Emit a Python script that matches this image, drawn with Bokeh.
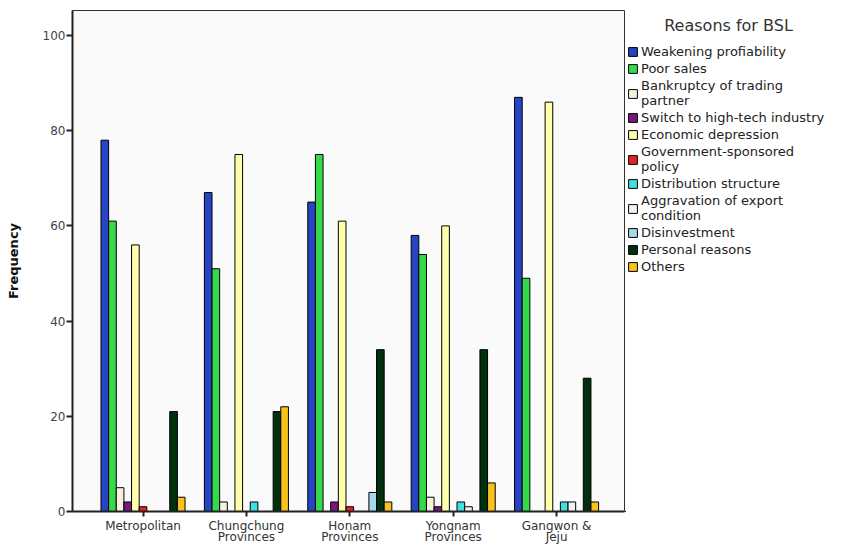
from bokeh.plotting import figure
from bokeh.layouts import row
from bokeh.models import (FixedTicker, Legend, LegendItem, Label, Range1d,
                          ColumnDataSource)
from bokeh.embed import file_html
from bokeh.resources import INLINE

# ---- data ----
regions = ["Metropolitan", "Chungchung\nProvinces", "Honam\nProvinces",
           "Yongnam\nProvinces", "Gangwon &\nJeju"]
reasons = ["Weakening profiability", "Poor sales",
           "Bankruptcy of trading\npartner", "Switch to high-tech industry",
           "Economic depression", "Government-sponsored\npolicy",
           "Distribution structure", "Aggravation of export\ncondition",
           "Disinvestment", "Personal reasons", "Others"]
weakening = [78, 67, 65, 58, 87]
poor_sales = [61, 51, 75, 54, 49]
bankruptcy = [5, 2, 0, 3, 0]
switch_hightech = [2, 0, 2, 1, 0]
economic_depression = [56, 75, 61, 60, 86]
government_policy = [1, 0, 1, 0, 0]
distribution = [0, 2, 0, 2, 2]
aggravation = [0, 0, 0, 1, 2]
disinvestment = [0, 0, 4, 0, 0]
personal = [21, 21, 34, 34, 28]
others = [3, 22, 2, 6, 2]
y_ticks = [0, 20, 40, 60, 80, 100]
legend_title = "Reasons for BSL"

series = [weakening, poor_sales, bankruptcy, switch_hightech,
          economic_depression, government_policy, distribution,
          aggravation, disinvestment, personal, others]
colors = ["#2744C4", "#36D94A", "#F4F2DC", "#7A1680", "#FFFFAC", "#E8201E",
          "#40E0E0", "#F2F2F2", "#A8D8F0", "#00300E", "#F8C21C"]

FONT = "DejaVu Sans"
bar_w = 0.0739
n = len(series)

# ---- main chart ----
p = figure(width=625, height=548, output_backend="svg", toolbar_location=None,
           x_range=Range1d(-0.682, 4.657), y_range=Range1d(0, 105.25),
           min_border_left=72, min_border_right=1, min_border_top=10,
           min_border_bottom=37)
p.background_fill_color = "#FAFAFA"
p.border_fill_color = "white"
p.outline_line_color = "#333333"
p.outline_line_width = 1
p.xgrid.visible = False
p.ygrid.visible = False

sources = []
for k, vals in enumerate(series):
    xs = [i + (k - (n - 1) / 2) * bar_w for i in range(len(regions))]
    src = ColumnDataSource(dict(x=xs, top=vals))
    sources.append(src)
    p.vbar(x="x", top="top", bottom=0, width=bar_w, source=src,
           fill_color=colors[k], line_color="black", line_width=1)

# x axis
p.xaxis.ticker = FixedTicker(ticks=list(range(len(regions))))
p.xaxis.major_label_overrides = {i: regions[i] for i in range(len(regions))}
p.xaxis.minor_tick_line_color = None
p.xaxis.major_tick_in = 0
p.xaxis.major_tick_out = 5
p.xaxis.major_tick_line_color = "#222222"
p.xaxis.major_tick_line_width = 2
p.xaxis.axis_line_color = "#222222"
p.xaxis.axis_line_width = 2
p.xaxis.major_label_standoff = 2
p.xaxis.major_label_text_font = FONT
p.xaxis.major_label_text_font_size = "12px"
p.xaxis.major_label_text_color = "#333333"
p.xaxis.major_label_text_line_height = 0.83

# y axis
p.yaxis.ticker = FixedTicker(ticks=y_ticks)
p.yaxis.minor_tick_line_color = None
p.yaxis.major_tick_in = 0
p.yaxis.major_tick_out = 6
p.yaxis.major_tick_line_color = "#222222"
p.yaxis.major_tick_line_width = 2
p.yaxis.axis_line_color = "#222222"
p.yaxis.axis_line_width = 2
p.yaxis.major_label_standoff = 1
p.yaxis.major_label_text_font = FONT
p.yaxis.major_label_text_font_size = "12px"
p.yaxis.major_label_text_color = "#444444"
p.yaxis.axis_label = "Frequency"
p.yaxis.axis_label_text_font = FONT
p.yaxis.axis_label_text_font_size = "13px"
p.yaxis.axis_label_text_font_style = "bold"
p.yaxis.axis_label_text_color = "#111111"
p.yaxis.axis_label_standoff = 19

# ---- legend panel (frame aligned with the chart: y 10..511) ----
lg = figure(width=222, height=548, output_backend="svg", toolbar_location=None,
            x_range=Range1d(100, 101), y_range=Range1d(100, 101),
            x_axis_type=None, y_axis_type=None,
            min_border_left=0, min_border_right=0,
            min_border_top=10, min_border_bottom=37)
lg.outline_line_color = None
lg.background_fill_color = "white"
lg.border_fill_color = "white"
lg.xgrid.visible = False
lg.ygrid.visible = False

items = []
for k in range(n):
    # same data, drawn outside this panel's view; used only for legend swatches
    r = lg.vbar(x="x", top="top", bottom=0, width=bar_w, source=sources[k],
                fill_color=colors[k], line_color="black", line_width=1)
    items.append(LegendItem(label=reasons[k], renderers=[r]))

legend = Legend(items=items, location=(2, 237), margin=0, padding=0,
                spacing=2, glyph_width=11, glyph_height=11, label_height=11,
                label_standoff=3, label_text_font=FONT,
                label_text_font_size="13px", label_text_color="#222222",
                background_fill_alpha=0, border_line_color=None)
lg.add_layout(legend, "center")

title = Label(x=103, y=486, x_units="screen", y_units="screen",
              text=legend_title, text_align="center",
              text_baseline="middle", text_font=FONT,
              text_font_size="16px", text_color="#333333")
lg.add_layout(title)

layout = row(p, lg, spacing=0)
open("out.html", "w").write(file_html(layout, INLINE))
